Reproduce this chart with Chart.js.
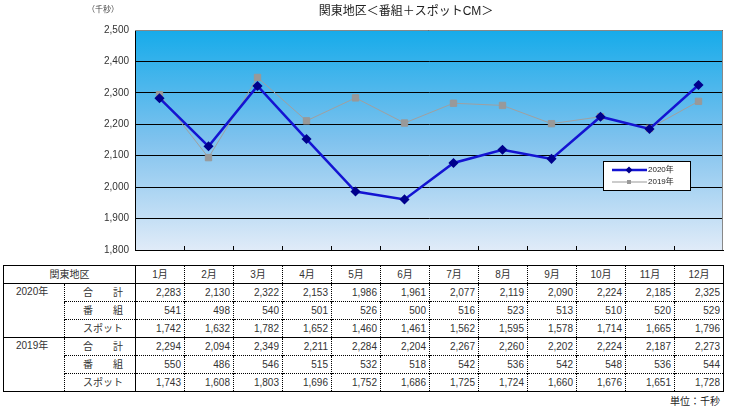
<!DOCTYPE html>
<html>
<head>
<meta charset="utf-8">
<script src="https://cdn.jsdelivr.net/npm/chart.js@4"></script>
<style>
  body { margin: 0; background: #fff; width: 730px; height: 412px; position: relative; overflow: hidden;
         font-family: "Liberation Sans", "Noto Sans CJK JP", sans-serif; }
  #chartBox { position: absolute; left: 0; top: 0; width: 730px; height: 262px; }
  #tbl { position: absolute; left: 3px; top: 265px; border-collapse: collapse; table-layout: fixed;
         font-size: 10px; color: #333; border: 1px solid #000; }
  #tbl td { height: 17px; padding: 0; line-height: 16px; border-left: 1px dotted #000; border-top: 1px dotted #000; white-space: nowrap; }
  #tbl td.num { text-align: right; padding-right: 3px; }
  #tbl tr.head td { text-align: center; border-bottom: 1px solid #000; }
  #tbl tr.grp td { border-top: 1px solid #000; }
  #tbl td.yr { vertical-align: top; padding-left: 12px; border-left: 1px solid #000; }
  #tbl td.kind { padding-left: 18px; border-right: 1px solid #000; }
  #tbl td.area { border-right: 1px solid #000; }
  #unit { position: absolute; right: 10px; top: 393px; font-size: 10px; color: #222; }
</style>
</head>
<body>
<div id="chartBox"><canvas id="chart"></canvas></div>
<table id="tbl"></table>
<div id="unit">単位：千秒</div>
<script>
var months = ['1月','2月','3月','4月','5月','6月','7月','8月','9月','10月','11月','12月']
var total2020 = [2283, 2130, 2322, 2153, 1986, 1961, 2077, 2119, 2090, 2224, 2185, 2325]
var program2020 = [541, 498, 540, 501, 526, 500, 516, 523, 513, 510, 520, 529]
var spot2020 = [1742, 1632, 1782, 1652, 1460, 1461, 1562, 1595, 1578, 1714, 1665, 1796]
var total2019 = [2294, 2094, 2349, 2211, 2284, 2204, 2267, 2260, 2202, 2224, 2187, 2273]
var program2019 = [550, 486, 546, 515, 532, 518, 542, 536, 542, 548, 536, 544]
var spot2019 = [1743, 1608, 1803, 1696, 1752, 1686, 1725, 1724, 1660, 1676, 1651, 1728]
var yTicks = [1800, 1900, 2000, 2100, 2200, 2300, 2400, 2500]

function fmt(v) {
  return v.toLocaleString('en-US')
}

// table below the chart
function buildTable() {
  var t = document.getElementById('tbl')
  var html = '<colgroup><col style="width:61px"><col style="width:71px">'
  for (let i = 0; i < 12; i++) html += '<col style="width:49px">'
  html += '</colgroup>'
  html += '<tr class="head"><td colspan="2" class="area">関東地区</td>'
  months.forEach(m => { html += '<td>' + m + '</td>' })
  html += '</tr>'
  var groups = [
    ['2020年', [total2020, program2020, spot2020]],
    ['2019年', [total2019, program2019, spot2019]]
  ]
  var kinds = ['合　　計', '番　　組', 'スポット']
  groups.forEach(g => {
    g[1].forEach((arr, r) => {
      html += '<tr' + (r == 0 ? ' class="grp"' : '') + '>'
      if (r == 0) html += '<td class="yr" rowspan="3">' + g[0] + '</td>'
      html += '<td class="kind">' + kinds[r] + '</td>'
      arr.forEach(v => { html += '<td class="num">' + fmt(v) + '</td>' })
      html += '</tr>'
    })
  })
  t.innerHTML = html
}
buildTable()

var decor = {
  id: 'decor',
  beforeDraw(chart) {
    var ctx = chart.ctx, a = chart.chartArea
    var g = ctx.createLinearGradient(0, a.top, 0, a.bottom)
    g.addColorStop(0, '#16abea')
    g.addColorStop(0.5, '#7fc2ee')
    g.addColorStop(1, '#e0ebf8')
    ctx.save()
    ctx.fillStyle = g
    ctx.fillRect(a.left, a.top, a.right - a.left, a.bottom - a.top)
    ctx.restore()
  },
  afterDraw(chart) {
    var ctx = chart.ctx, a = chart.chartArea, x = chart.scales.x
    ctx.save()
    // top and right border
    ctx.strokeStyle = '#888'
    ctx.lineWidth = 1
    ctx.beginPath()
    ctx.moveTo(a.left, a.top + 0.5); ctx.lineTo(a.right - 0.5, a.top + 0.5); ctx.lineTo(a.right - 0.5, a.bottom)
    ctx.stroke()
    // category tick marks
    ctx.strokeStyle = '#000'
    ctx.beginPath()
    for (let i = 1; i < months.length; i++) {
      var px = Math.round((x.getPixelForValue(i - 1) + x.getPixelForValue(i)) / 2) + 0.5
      ctx.moveTo(px, a.bottom); ctx.lineTo(px, a.bottom - 4)
    }
    ctx.stroke()
    // title texts
    ctx.fillStyle = '#222'
    ctx.font = '12px "Liberation Sans", "Noto Sans CJK JP"'
    ctx.textAlign = 'center'
    ctx.textBaseline = 'middle'
    ctx.fillText('関東地区＜番組＋スポットCM＞', 406, 12)
    ctx.font = '8px "Liberation Sans", "Noto Sans CJK JP"'
    ctx.fillStyle = '#444'
    ctx.fillText('（千秒）', 103, 10)
    // legend
    var lx = 603, ly = 161
    ctx.fillStyle = '#fff'
    ctx.fillRect(lx, ly, 87, 29)
    ctx.strokeStyle = '#000'
    ctx.strokeRect(lx + 0.5, ly + 0.5, 87, 29)
    ctx.strokeStyle = '#1414d2'
    ctx.lineWidth = 2.5
    ctx.beginPath(); ctx.moveTo(612, 170); ctx.lineTo(647, 170); ctx.stroke()
    ctx.fillStyle = '#00008c'
    ctx.beginPath(); ctx.moveTo(629, 166.5); ctx.lineTo(632.5, 170); ctx.lineTo(629, 173.5); ctx.lineTo(625.5, 170); ctx.closePath(); ctx.fill()
    ctx.strokeStyle = '#999'
    ctx.lineWidth = 1
    ctx.beginPath(); ctx.moveTo(612, 182); ctx.lineTo(647, 182); ctx.stroke()
    ctx.fillStyle = '#999'
    ctx.fillRect(627, 180, 4, 4)
    ctx.fillStyle = '#222'
    ctx.font = '8px "Liberation Sans", "Noto Sans CJK JP"'
    ctx.textAlign = 'left'
    ctx.fillText('2020年', 648, 170)
    ctx.fillText('2019年', 648, 182)
    ctx.restore()
  }
}

new Chart(document.getElementById('chart').getContext('2d'), {
  type: 'line',
  data: {
    labels: months,
    datasets: [{
      label: '2020年',
      data: total2020,
      borderColor: '#1414d2',
      borderWidth: 2.5,
      pointStyle: 'rectRot',
      pointRadius: 3.3,
      pointBackgroundColor: '#00008c',
      pointBorderColor: '#00008c',
      tension: 0
    }, {
      label: '2019年',
      data: total2019,
      borderColor: '#a0a0a0',
      borderWidth: 1,
      pointStyle: 'rect',
      pointRadius: 4.5,
      pointBackgroundColor: '#999',
      pointBorderColor: '#999',
      tension: 0
    }]
  },
  options: {
    responsive: true,
    maintainAspectRatio: false,
    animation: false,
    layout: { padding: { top: 30, right: 7, left: 0, bottom: 0 } },
    plugins: { legend: { display: false }, tooltip: { enabled: false } },
    scales: {
      x: {
        offset: true,
        grid: { display: false },
        border: { color: '#000', width: 1 },
        ticks: { display: false },
        afterFit(s) { s.height = 11 }
      },
      y: {
        min: 1800,
        max: 2500,
        afterBuildTicks(s) { s.ticks = yTicks.map(v => ({ value: v })) },
        grid: { color: '#000', lineWidth: 1, drawTicks: false },
        border: { color: '#000', width: 1 },
        ticks: {
          padding: 6,
          color: '#333',
          font: { size: 10, family: '"Liberation Sans"' },
          callback: v => fmt(v)
        },
        afterFit(s) { s.width = 135 }
      }
    }
  },
  plugins: [decor]
})
</script>
</body>
</html>
